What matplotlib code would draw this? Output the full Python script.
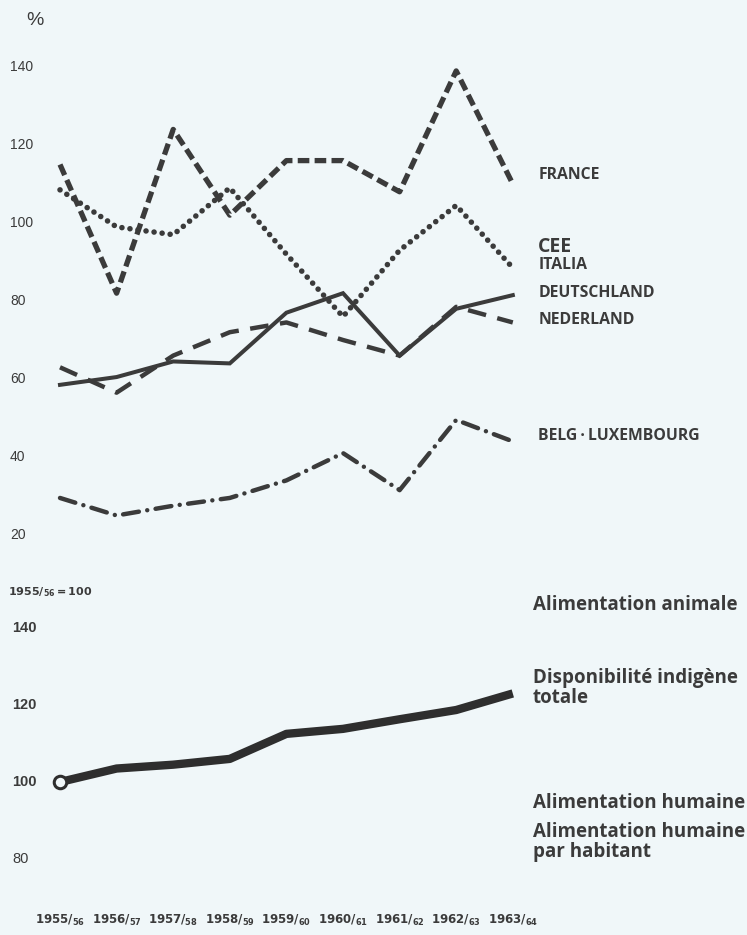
import matplotlib.pyplot as plt
import numpy as np

# --- datos ---
campanas = ['1955', '1956', '1957', '1958', '1959', '1960', '1961', '1962', '1963']
sufijos = ['56', '57', '58', '59', '60', '61', '62', '63', '64']

france = [115, 82, 124, 102, 116, 116, 108, 139, 110]
italia = [108.5, 99, 97, 109, 92, 76, 93, 104.5, 88.5]
deutschland = [58.5, 60.5, 64.5, 64, 77, 82, 66, 78, 81.5]
nederland = [63, 56.5, 66, 72, 74.5, 70, 66, 78.5, 74.5]
belg_lux = [29.5, 25, 27.5, 29.5, 34, 41, 31.5, 49.5, 44]

disponibilite = [100, 103.5, 104.5, 106, 112.5, 113.8, 116.3, 118.7, 123]

ticks_haut = [140, 120, 100, 80, 60, 40, 20]
ticks_bas = [140, 120, 100, 80]

etiquettes_haut = ['FRANCE', 'CEE', 'ITALIA', 'DEUTSCHLAND', 'NEDERLAND', 'BELG\u2009·\u2009LUXEMBOURG']
pos_haut = [112.3, 93.8, 89.2, 82, 75.1, 45.4]
etiquettes_bas = ['Alimentation animale', 'Disponibilité indigène\ntotale',
                  'Alimentation humaine', 'Alimentation humaine\npar habitant']
pos_bas = [146, 124.4, 94.5, 84.4]

FOND = '#f0f7f9'
ENCRE = '#3b3b3b'
W, H = 747, 935
X0, PAS = 60, 56.6  # px del primer ano y separacion

plt.rcParams['font.family'] = ['Liberation Sans', 'DejaVu Sans']
fig = plt.figure(figsize=(W / 100, H / 100), dpi=100, facecolor=FOND)

x = np.arange(len(campanas))
xlim = (-X0 / PAS, (W - X0) / PAS)


def ejes(top_px, bot_px, ymax, ymin):
    ax = fig.add_axes([0, 1 - bot_px / H, 1, (bot_px - top_px) / H])
    ax.set_xlim(*xlim)
    ax.set_ylim(ymin, ymax)
    ax.patch.set_alpha(0)
    ax.axis('off')
    return ax


# panel superior: 140 -> 67px, 3.9 px por unidad
ax1 = ejes(67 - 10 * 3.9, 67 + 125 * 3.9, 150, 15)
ax1.plot(x, france, color=ENCRE, lw=3.8, linestyle=(0, (2.2, 1.0)), dash_capstyle='butt')
ax1.plot(x, italia, color=ENCRE, lw=4.0, linestyle=(0, (0.01, 1.45)), dash_capstyle='round')
ax1.plot(x, deutschland, color=ENCRE, lw=2.9, solid_joinstyle='miter')
ax1.plot(x, nederland, color=ENCRE, lw=3.2, linestyle=(0, (4.2, 2.6)), dash_capstyle='butt')
ax1.plot(x, belg_lux, color=ENCRE, lw=3.2, linestyle=(0, (3.6, 1.9, 0.01, 1.9)), dash_capstyle='round')

for v in ticks_haut:
    ax1.text(xlim[0] + 10 / PAS, v, str(v), fontsize=10, color=ENCRE, ha='left', va='center')
ax1.text(xlim[0] + 26 / PAS, 152, '%', fontsize=14, color=ENCRE, ha='left', va='center', clip_on=False)

for txt, v in zip(etiquettes_haut, pos_haut):
    ax1.text(8.45, v, txt, fontsize=14 if txt == 'CEE' else 11.3, color=ENCRE, fontweight='bold',
             family=['Open Sans', 'DejaVu Sans'], ha='left', va='center')

# panel inferior: 100 -> 782px, 3.85 px por unidad
ax2 = ejes(782 - 50 * 3.85, 782 + 30 * 3.85, 150, 70)
ax2.plot(x, disponibilite, color='#2e2e2e', lw=6.0, solid_capstyle='butt', zorder=2)
ax2.plot(x[0], disponibilite[0], 'o', ms=9, mfc=FOND, mec='#2e2e2e', mew=2.2, zorder=3)

for v in ticks_bas:
    ax2.text(xlim[0] + 12 / PAS, v, str(v), fontsize=10.5, color=ENCRE, ha='left', va='center',
             fontweight='bold' if v != 80 else 'normal')
ax2.text(xlim[0] + 8 / PAS, 149.3, r'$\mathbf{1955/_{56}{=}100}$', fontsize=8, color=ENCRE,
         ha='left', va='center', clip_on=False)

for txt, v in zip(etiquettes_bas, pos_bas):
    ax2.text(8.35, v, txt, fontsize=13.5, color=ENCRE, fontweight='bold',
             family=['Open Sans', 'DejaVu Sans'], ha='left', va='center', linespacing=1.0)

for i in x:
    ax2.text(i, 64, r'$\mathbf{%s/_{%s}}$' % (campanas[i], sufijos[i]), fontsize=8.5,
             color=ENCRE, ha='center', va='center', clip_on=False)

fig.savefig('out.png', dpi=100, facecolor=FOND)
